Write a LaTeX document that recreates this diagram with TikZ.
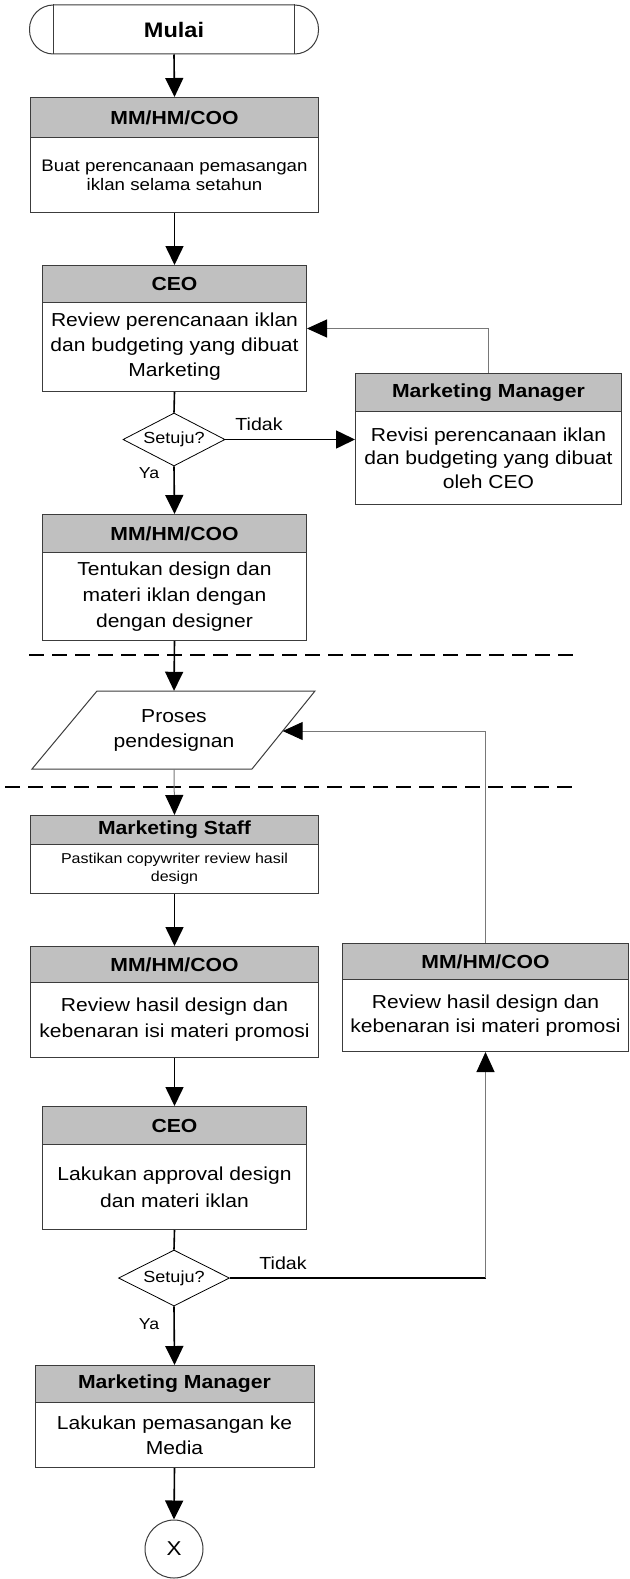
\documentclass[tikz,border=0pt]{standalone}
\usepackage{fontspec}
\setmainfont{Liberation Sans}[FakeStretch=1.12]
\usetikzlibrary{arrows.meta,shapes.geometric,calc}
\definecolor{hdrgray}{RGB}{192,192,192}
\definecolor{bordercol}{RGB}{60,60,60}
\definecolor{fbgray}{RGB}{120,120,120}
\newcommand{\fsz}[2]{\fontsize{#1}{#2}\selectfont}
\begin{document}
\begin{tikzpicture}[x=1pt,y=-1pt,
  hdr/.style={draw=bordercol, fill=hdrgray, line width=1pt, anchor=north west, inner sep=0pt, font=\bfseries\fsz{18.9}{22}},
  bodybox/.style={draw=bordercol, line width=1pt, anchor=north west, inner sep=0pt, align=center},
  flow/.style={line width=1.6pt, -{Triangle[width=18pt,length=19pt]}},
  link/.style={line width=1.6pt},
  fbline/.style={draw=fbgray, line width=1pt, -{Triangle[width=18pt,length=20pt,color=black]}},
  lbl/.style={inner sep=0pt},
  decision/.style={draw=black, line width=0.8pt, diamond, aspect=2, inner sep=0pt, font=\fsz{16.1}{18}},
  dashsep/.style={line width=1.6pt, dash pattern=on 15pt off 8pt},
]
\useasboundingbox (0,0) rectangle (629,1579);

% start terminal
\node[draw=bordercol, line width=1pt, rounded corners=24pt, minimum width=289pt, minimum height=49pt, inner sep=0pt, font=\bfseries\fsz{21}{24}] (start) at (174,29.5) {Mulai};
\draw[draw=bordercol, line width=1pt] ([xshift=24pt]start.north west) -- ([xshift=24pt]start.south west);
\draw[draw=bordercol, line width=1pt] ([xshift=-25pt]start.north east) -- ([xshift=-25pt]start.south east);

% box 1
\node[hdr, minimum width=288pt, minimum height=40pt] (b1h) at (30,97) {MM/HM/COO};
\node[bodybox, minimum width=288pt, minimum height=75pt, font=\fsz{16.7}{18.7}] (b1) at (30,137) {Buat perencanaan pemasangan\\iklan selama setahun};

% CEO 1
\node[hdr, minimum width=264pt, minimum height=37pt] (c1h) at (42,265) {CEO};
\node[bodybox, minimum width=264pt, minimum height=89pt, font=\fsz{18.8}{25}] (c1) at (42,302) {Review perencanaan iklan\\dan budgeting yang dibuat\\Marketing};

% decision 1
\node[decision, minimum width=102pt, minimum height=53pt] (d1) at (174,439.5) {Setuju?};
\node[lbl, font=\fsz{17.5}{20}] (t1) at (259,424) {Tidak};
\node[lbl, font=\fsz{15.8}{18}] (y1) at (149,473) {Ya};

% Marketing Manager 1
\node[hdr, minimum width=266pt, minimum height=38pt] (m1h) at (355,373) {Marketing Manager};
\node[bodybox, minimum width=266pt, minimum height=93pt, font=\fsz{18.8}{23.5}] (m1) at (355,411) {Revisi perencanaan iklan\\dan budgeting yang dibuat\\oleh CEO};

% box 3
\node[hdr, minimum width=264pt, minimum height=38pt] (b3h) at (42,514) {MM/HM/COO};
\node[bodybox, minimum width=264pt, minimum height=88pt, font=\fsz{18.8}{26}] (b3) at (42,552) {Tentukan design dan\\materi iklan dengan\\dengan designer};

% separators
\coordinate (s1a) at (29,655);
\coordinate (s1b) at (573,655);
\coordinate (s2a) at (5,787);
\coordinate (s2b) at (573,787);
\draw[dashsep] (s1a) -- (s1b);
\draw[dashsep] (s2a) -- (s2b);

% parallelogram
\coordinate (ptl) at (97,691);
\coordinate (ptr) at (315,691);
\coordinate (pbr) at (252,769);
\coordinate (pbl) at (32,769);
\draw[draw=bordercol, line width=1pt, fill=white] (ptl) -- (ptr) -- (pbr) -- (pbl) -- cycle;
\node[minimum width=150pt, minimum height=78pt, inner sep=0pt, align=center, font=\fsz{18.8}{25}] (par) at (174,730) {Proses\\pendesignan};
\coordinate (pin) at ($(ptr)!0.513!(pbr)$);

% Marketing Staff
\node[hdr, minimum width=288pt, minimum height=29pt] (sh) at (30,815) {Marketing Staff};
\node[bodybox, minimum width=288pt, minimum height=49pt, font=\fsz{14.3}{18}] (s) at (30,844) {Pastikan copywriter review hasil\\design};

% left review
\node[hdr, minimum width=288pt, minimum height=36pt] (lrh) at (30,946) {MM/HM/COO};
\node[bodybox, minimum width=288pt, minimum height=75pt, font=\fsz{18.8}{26}] (lr) at (30,982) {Review hasil design dan\\kebenaran isi materi promosi};

% right review
\node[hdr, minimum width=286pt, minimum height=36pt] (rrh) at (342,943) {MM/HM/COO};
\node[bodybox, minimum width=286pt, minimum height=72pt, font=\fsz{18.8}{24}] (rr) at (342,979) {Review hasil design dan\\kebenaran isi materi promosi};

% CEO 2
\node[hdr, minimum width=264pt, minimum height=38pt] (c2h) at (42,1106) {CEO};
\node[bodybox, minimum width=264pt, minimum height=85pt, font=\fsz{18.8}{27}] (c2) at (42,1144) {Lakukan approval design\\dan materi iklan};

% decision 2
\node[decision, minimum width=111pt, minimum height=56pt] (d2) at (174,1278) {Setuju?};
\node[lbl, font=\fsz{17.5}{20}] (t2) at (283,1263) {Tidak};
\node[lbl, font=\fsz{15.8}{18}] (y2) at (149,1324) {Ya};

% Marketing Manager 2
\node[hdr, minimum width=279pt, minimum height=37pt] (m2h) at (34.5,1365) {Marketing Manager};
\node[bodybox, minimum width=279pt, minimum height=65pt, font=\fsz{18.8}{25}] (m2) at (34.5,1402) {Lakukan pemasangan ke\\Media};

% end connector
\node[draw=bordercol, line width=1pt, circle, minimum size=58pt, inner sep=0pt, font=\fsz{20}{22}] (end) at (174,1549) {X};

% connectors
\draw[flow] (start.south) -- (b1h.north);
\draw[flow] (b1.south) -- (c1h.north);
\draw[link] (c1.south) -- (d1.north);
\draw[flow] (d1.east) -- (d1.east -| m1.west);
\draw[fbline] (m1h.north) |- ([yshift=18.5pt]c1.east);
\draw[flow] (d1.south) -- (b3h.north);
\draw[flow] (b3.south) -- (par.north);
\draw[fbline] (par.south) -- (sh.north);
\draw[flow] (s.south) -- (lrh.north);
\draw[fbline] (rrh.north) |- (pin);
\draw[flow] (lr.south) -- (c2h.north);
\draw[link] (c2.south) -- (d2.north);
\coordinate (k2) at (d2.east -| rr.south);
\draw[line width=1.2pt] (d2.east) -- (k2);
\draw[fbline] (k2) -- (rr.south);
\draw[flow] (d2.south) -- (m2h.north);
\draw[flow] (m2.south) -- (end.north);
\end{tikzpicture}
\end{document}
